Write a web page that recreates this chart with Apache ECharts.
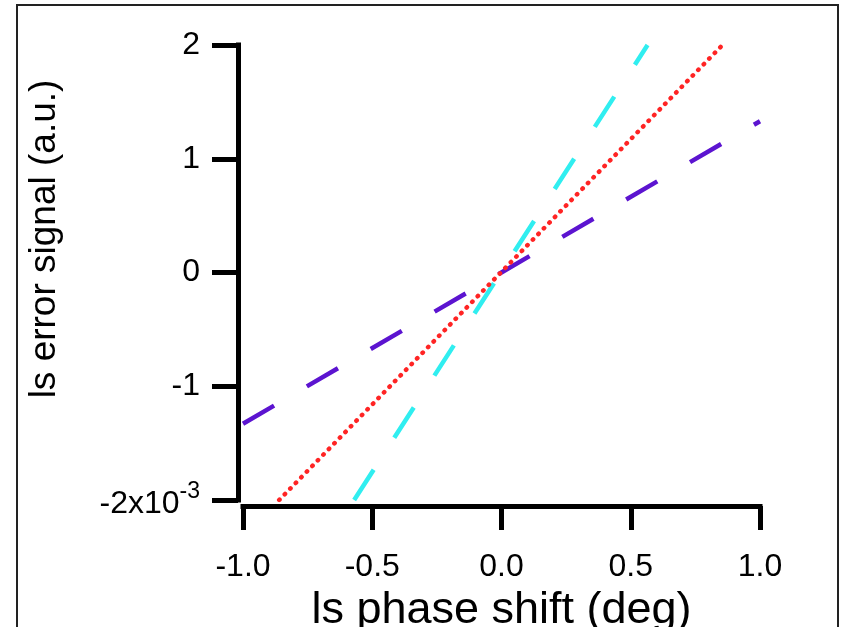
<!DOCTYPE html>
<html>
<head>
<meta charset="utf-8">
<script src="https://cdn.jsdelivr.net/npm/echarts@6/dist/echarts.min.js"></script>
<style>
html,body{margin:0;padding:0;background:#fff;}
#chart{width:844px;height:627px;}
</style>
</head>
<body>
<div id="chart"></div>
<script>
// Data (x in deg, y in a.u.)
var purpleX = [-1.0, 1.0];
var purpleY = [-0.00133, 0.00133];
var cyanX = [-0.57, 0.565];
var cyanY = [-0.002, 0.002];
var redX = [-0.86, 0.855];
var redY = [-0.002, 0.002];

var xTickLabels = ['-1.0', '-0.5', '0.0', '0.5', '1.0'];
var yTickLabels = ['-2', '-1', '0', '1', '2'];
var xTitle = 'ls phase shift (deg)';
var yTitle = 'ls error signal (a.u.)';

function zip(xs, ys) { return xs.map(function (x, i) { return [x, ys[i]]; }); }

var FONT = '"Liberation Sans", Arial, Helvetica, sans-serif';
var chart = echarts.init(document.getElementById('chart'), null, {renderer: 'canvas'});

chart.setOption({
  backgroundColor: '#ffffff',
  animation: false,
  grid: {left: 243, right: 84, top: 45, bottom: 127, containLabel: false, outerBoundsMode: 'none'},
  xAxis: {
    type: 'value', min: -1, max: 1, interval: 0.5, offset: 6,
    axisLine: {show: true, onZero: false, lineStyle: {color: '#000', width: 5, cap: 'square'}},
    axisTick: {show: true, inside: false, length: 24, lineStyle: {color: '#000', width: 5}},
    splitLine: {show: false},
    axisLabel: {
      margin: 45, color: '#000', fontSize: 32, fontFamily: FONT,
      formatter: function (v) { return xTickLabels[Math.round((v + 1) / 0.5)]; }
    },
    name: xTitle, nameLocation: 'middle', nameGap: 78,
    nameTextStyle: {color: '#000', fontSize: 45, fontFamily: FONT}
  },
  yAxis: {
    type: 'value', min: -0.002, max: 0.002, interval: 0.001, offset: 5,
    axisLine: {show: true, onZero: false, lineStyle: {color: '#000', width: 5, cap: 'square'}},
    axisTick: {show: true, inside: false, length: 26, lineStyle: {color: '#000', width: 5}},
    splitLine: {show: false},
    axisLabel: {
      margin: 38, color: '#000', fontSize: 32, fontFamily: FONT,
      formatter: function (v) {
        var i = Math.round(v * 1000) + 2;
        if (i === 0) return '{a|' + yTickLabels[0] + 'x10}{b|-3}';
        return yTickLabels[i];
      },
      rich: {
        a: {fontSize: 32, fontFamily: FONT, color: '#000', verticalAlign: 'bottom', lineHeight: 40},
        b: {fontSize: 23, fontFamily: FONT, color: '#000', verticalAlign: 'top', lineHeight: 23}
      }
    }
  },
  graphic: [
    {type: 'rect', shape: {x: 17, y: 5, width: 821, height: 700}, style: {fill: 'none', stroke: '#222', lineWidth: 2}, z: 0},
    {type: 'text', x: 45, y: 239, rotation: Math.PI / 2,
     style: {text: yTitle, font: '37px ' + FONT, fill: '#000', textAlign: 'center', textVerticalAlign: 'middle'}}
  ],
  series: [
    {type: 'line', data: zip(purpleX, purpleY), symbol: 'none', silent: true,
     lineStyle: {color: '#5c14d0', width: 4.5, type: [36, 38]}},
    {type: 'line', data: zip(cyanX, cyanY), symbol: 'none', silent: true,
     lineStyle: {color: '#30eef0', width: 4.5, type: [36, 38]}},
    {type: 'line', data: zip(redX, redY), symbol: 'none', silent: true,
     lineStyle: {color: '#ff2424', width: 4.5, type: [0.5, 7.4], cap: 'round'}}
  ]
});
</script>
</body>
</html>
